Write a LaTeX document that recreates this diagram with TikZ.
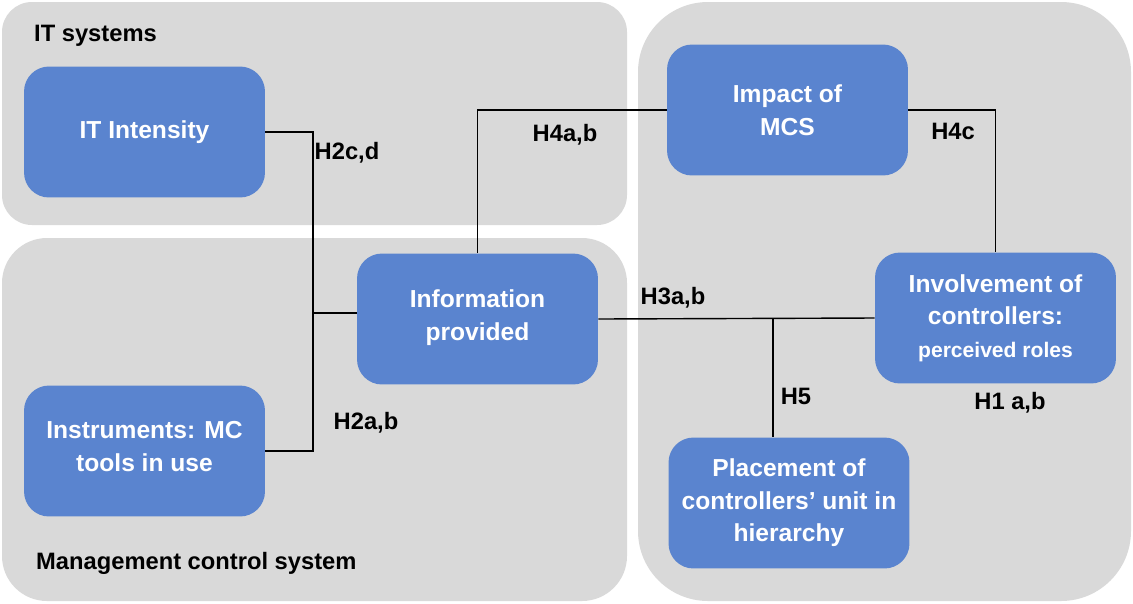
\documentclass[tikz,border=0pt]{standalone}
\usepackage{fontspec}
\setmainfont{Liberation Sans}
\usepackage{xcolor}
\usetikzlibrary{positioning, calc}
\definecolor{panelgray}{HTML}{D9D9D9}
\definecolor{boxblue}{HTML}{5A84CF}

\begin{document}
\begin{tikzpicture}[
  x=0.02cm, y=-0.02cm,
  panel/.style={fill=panelgray, draw=none},
  concept/.style={fill=boxblue, draw=none, rounded corners=0.5cm, minimum width=4.82cm, minimum height=2.62cm, align=center, text=white, font=\fontsize{14}{18.5}\selectfont\bfseries},
  link/.style={draw=black, line width=0.8pt},
  hyp/.style={font=\fontsize{13.5}{15}\selectfont\bfseries},
  area/.style={font=\fontsize{13.5}{15}\selectfont\bfseries, anchor=west}
]
  \useasboundingbox (0,0) rectangle (1133,603);

  \fill[panel, rounded corners=0.6cm] (2,2) rectangle (627,225);
  \fill[panel, rounded corners=0.9cm] (2,238) rectangle (627,601);
  \fill[panel, rounded corners=1.4cm] (638,2) rectangle (1131,601);

  \node[area] (itsys) at (28,36) {IT systems};
  \node[area] (mcsys) at (30,563) {Management control system};

  \node[concept] (itint) at (144.5,132) {IT Intensity};
  \node[concept] (instr) at (144.5,451) {Instruments: MC\\tools in use\\[-13pt]};
  \node[concept] (info) at (477.5,319) {Information\\provided\\[-14pt]};
  \node[concept] (impact) at (787.5,110) {Impact of\\MCS};
  \node[concept] (involv) at (995.5,318) {Involvement of\\controllers:\\{\fontsize{12}{14}\selectfont\bfseries perceived roles}};
  \node[concept] (place) at (789,503) {Placement of\\controllers' unit in\\hierarchy};

  \coordinate (jl) at (313,313);
  \coordinate (jr) at (773,318);

  \draw[link] (itint.east) -| (jl) |- (instr.east);
  \draw[link] (jl) -- (jl -| info.west);
  \draw[link] (info.north) |- (impact.west);
  \draw[link] (impact.east) -| (involv.north);
  \draw[link] (info.east) -- (involv.west);
  \draw[link] (jr) -- (jr |- place.north);

  \node[hyp] (h2cd) at (347,153) {H2c,d};
  \node[hyp] (h2ab) at (366,423) {H2a,b};
  \node[hyp] (h4ab) at (565,135) {H4a,b};
  \node[hyp] (h4c) at (953,131) {H4c};
  \node[hyp] (h3ab) at (673,298) {H3a,b};
  \node[hyp] (h5) at (796,396) {H5};
  \node[hyp] (h1ab) at (1010,403) {H1 a,b};
\end{tikzpicture}
\end{document}
